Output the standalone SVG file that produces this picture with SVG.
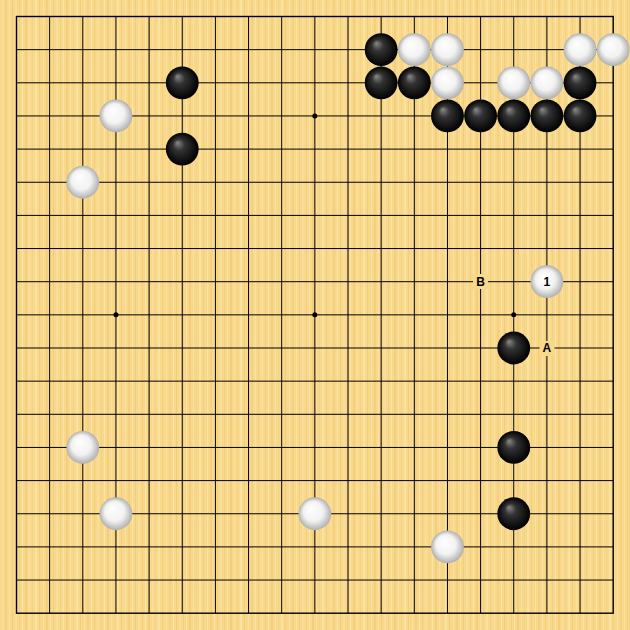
<svg xmlns="http://www.w3.org/2000/svg" width="630" height="630" viewBox="0 0 630 630">
<defs>
<pattern id="wood" x="0" y="0" width="41" height="630" patternUnits="userSpaceOnUse">
<rect width="41" height="630" fill="#F8D98B"/>
<rect x="2" width="1" height="630" fill="#FAE1A1"/>
<rect x="5" width="2" height="630" fill="#F5D07E"/>
<rect x="9" width="1" height="630" fill="#FBE3A6"/>
<rect x="12" width="1" height="630" fill="#F4CD78"/>
<rect x="15" width="2" height="630" fill="#F9DE9B"/>
<rect x="19" width="1" height="630" fill="#F5D07D"/>
<rect x="22" width="1" height="630" fill="#FBE4A8"/>
<rect x="25" width="2" height="630" fill="#F4CE7A"/>
<rect x="29" width="1" height="630" fill="#FAE0A0"/>
<rect x="32" width="1" height="630" fill="#F6D381"/>
<rect x="35" width="2" height="630" fill="#FAE2A3"/>
<rect x="39" width="1" height="630" fill="#F4CE79"/>
</pattern>
<radialGradient id="gb" cx="0.5" cy="0.5" r="0.5" fx="0.35" fy="0.3">
<stop offset="0" stop-color="#8a8a8a"/>
<stop offset="0.35" stop-color="#333"/>
<stop offset="1" stop-color="#000"/>
</radialGradient>
<radialGradient id="gw" cx="0.5" cy="0.5" r="0.5" fx="0.38" fy="0.32">
<stop offset="0" stop-color="#fff"/>
<stop offset="0.6" stop-color="#f2f2f2"/>
<stop offset="1" stop-color="#b0b0b0"/>
</radialGradient>
<circle id="B" r="16.4" fill="url(#gb)"/>
<circle id="W" r="16.4" fill="url(#gw)"/>
</defs>
<style>
.grid{stroke:#000;stroke-width:1;fill:none}
.edge{stroke:#000;stroke-width:1.4;fill:none}
.star{fill:#000}
.lbl{font-family:"Liberation Sans",Arial,sans-serif;font-weight:bold;font-size:12px;text-anchor:middle;fill:#000}
</style>
<rect width="630" height="630" fill="url(#wood)"/>
<g id="connectors">
<path class="grid" d="M49.65 16.5V613.2M82.8 16.5V613.2M115.95 16.5V613.2M149.1 16.5V613.2M182.25 16.5V613.2M215.4 16.5V613.2M248.55 16.5V613.2M281.7 16.5V613.2M314.85 16.5V613.2M348 16.5V613.2M381.15 16.5V613.2M414.3 16.5V613.2M447.45 16.5V613.2M480.6 16.5V613.2M513.75 16.5V613.2M546.9 16.5V613.2M580.05 16.5V613.2
M16.5 49.65H613.2M16.5 82.8H613.2M16.5 115.95H613.2M16.5 149.1H613.2M16.5 182.25H613.2M16.5 215.4H613.2M16.5 248.55H613.2M16.5 281.7H613.2M16.5 314.85H613.2M16.5 348H613.2M16.5 381.15H613.2M16.5 414.3H613.2M16.5 447.45H613.2M16.5 480.6H613.2M16.5 513.75H613.2M16.5 546.9H613.2M16.5 580.05H613.2"/>
<rect class="edge" x="16.5" y="16.5" width="596.7" height="596.7"/>
<g class="star">
<circle cx="115.95" cy="115.95" r="2.5"/><circle cx="314.85" cy="115.95" r="2.5"/><circle cx="513.75" cy="115.95" r="2.5"/>
<circle cx="115.95" cy="314.85" r="2.5"/><circle cx="314.85" cy="314.85" r="2.5"/><circle cx="513.75" cy="314.85" r="2.5"/>
<circle cx="115.95" cy="513.75" r="2.5"/><circle cx="314.85" cy="513.75" r="2.5"/><circle cx="513.75" cy="513.75" r="2.5"/>
</g>
</g>
<g id="black-stones">
<use href="#B" x="381.15" y="49.65"/>
<use href="#B" x="381.15" y="82.8"/>
<use href="#B" x="414.3" y="82.8"/>
<use href="#B" x="580.05" y="82.8"/>
<use href="#B" x="182.25" y="82.8"/>
<use href="#B" x="182.25" y="149.1"/>
<use href="#B" x="447.45" y="115.95"/>
<use href="#B" x="480.6" y="115.95"/>
<use href="#B" x="513.75" y="115.95"/>
<use href="#B" x="546.9" y="115.95"/>
<use href="#B" x="580.05" y="115.95"/>
<use href="#B" x="513.75" y="348"/>
<use href="#B" x="513.75" y="447.45"/>
<use href="#B" x="513.75" y="513.75"/>
</g>
<g id="white-stones">
<use href="#W" x="414.3" y="49.65"/>
<use href="#W" x="447.45" y="49.65"/>
<use href="#W" x="580.05" y="49.65"/>
<use href="#W" x="613.2" y="49.65"/>
<use href="#W" x="447.45" y="82.8"/>
<use href="#W" x="513.75" y="82.8"/>
<use href="#W" x="546.9" y="82.8"/>
<use href="#W" x="115.95" y="115.95"/>
<use href="#W" x="82.8" y="182.25"/>
<use href="#W" x="82.8" y="447.45"/>
<use href="#W" x="115.95" y="513.75"/>
<use href="#W" x="314.85" y="513.75"/>
<use href="#W" x="447.45" y="546.9"/>
</g>
<g id="move-1">
<use href="#W" x="546.9" y="281.7"/>
<text class="lbl" x="546.9" y="286">1</text>
</g>
<g id="label-B">
<rect x="473" y="274" width="15" height="15" fill="#F8D98B"/>
<text class="lbl" x="480.6" y="286">B</text>
</g>
<g id="label-A">
<rect x="539.5" y="341" width="15" height="15" fill="#F8D98B"/>
<text class="lbl" x="546.9" y="352.3">A</text>
</g>
</svg>
